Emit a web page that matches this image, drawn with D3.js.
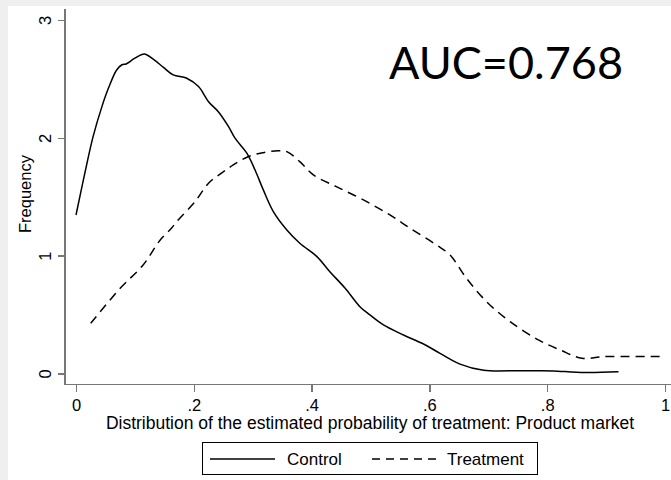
<!DOCTYPE html>
<html>
<head>
<meta charset="utf-8">
<script src="https://cdnjs.cloudflare.com/ajax/libs/d3/7.8.5/d3.min.js"></script>
<style>
body, html {
  margin: 0;
  padding: 0;
  background: #efefef;
  overflow: hidden;
}
text {
  font-family: "Liberation Sans", Arial, sans-serif;
  fill: #000;
}
.axis path, .axis line {
  stroke: #777;
  stroke-width: 1.5;
  shape-rendering: crispEdges;
}
</style>
</head>
<body>
<div id="chart"></div>
<script>

// density estimates
var controlX = [0, 0.015, 0.029, 0.044, 0.055, 0.069, 0.078, 0.085, 0.100, 0.116, 0.131, 0.148, 0.165, 0.188, 0.208, 0.225, 0.242, 0.259, 0.270, 0.290, 0.304, 0.318, 0.335, 0.358, 0.380, 0.409, 0.431, 0.457, 0.482, 0.499, 0.522, 0.556, 0.590, 0.618, 0.652, 0.692, 0.754, 0.788, 0.810, 0.864, 0.921]
var controlY = [1.345, 1.70, 2.01, 2.265, 2.42, 2.576, 2.62, 2.627, 2.676, 2.712, 2.667, 2.60, 2.534, 2.506, 2.435, 2.307, 2.22, 2.095, 1.997, 1.87, 1.727, 1.558, 1.374, 1.218, 1.105, 0.992, 0.864, 0.723, 0.567, 0.497, 0.412, 0.327, 0.25, 0.171, 0.08, 0.027, 0.024, 0.024, 0.022, 0.008, 0.014]

var treatX = [0.025, 0.075, 0.114, 0.143, 0.162, 0.171, 0.202, 0.225, 0.247, 0.267, 0.292, 0.318, 0.343, 0.358, 0.380, 0.403, 0.442, 0.488, 0.533, 0.567, 0.612, 0.635, 0.663, 0.697, 0.737, 0.785, 0.822, 0.859, 0.896, 1.0]
var treatY = [0.426, 0.723, 0.921, 1.133, 1.232, 1.289, 1.458, 1.615, 1.70, 1.77, 1.84, 1.874, 1.891, 1.883, 1.798, 1.685, 1.586, 1.473, 1.346, 1.233, 1.091, 1.006, 0.808, 0.61, 0.44, 0.285, 0.20, 0.129, 0.143, 0.143]

var xTicks = [0, 0.2, 0.4, 0.6, 0.8, 1]
var xTickLabels = ["0", ".2", ".4", ".6", ".8", "1"]
var yTicks = [0, 1, 2, 3]

var seriesNames = ["Control", "Treatment"]
var aucLabel = "AUC=0.768"
var xTitle = "Distribution of the estimated probability of treatment: Product market"
var yTitle = "Frequency"

var W = 671, H = 480

var svg = d3.select("#chart").append("svg")
  .attr("width", W)
  .attr("height", H)

// white graph region
svg.append("rect")
  .attr("x", 8).attr("y", 6)
  .attr("width", W - 8).attr("height", H - 6)
  .attr("fill", "#fff")

x = d3.scaleLinear().domain([0, 1]).range([76, 665])
y = d3.scaleLinear().domain([0, 3]).range([373.5, 20])

var axisX = 65, axisY = 384.5

// x axis
var gx = svg.append("g")
  .attr("class", "axis")
  .attr("transform", "translate(0," + axisY + ")")
  .call(d3.axisBottom(x).tickValues(xTicks).tickSize(7).tickSizeOuter(0)
    .tickFormat(function(d, i) { return xTickLabels[i] }))
gx.select(".domain").attr("d", "M" + axisX + ",0H" + W)
gx.selectAll("text").attr("font-size", 16.5).attr("dy", "1.0em")

// y axis
var gy = svg.append("g")
  .attr("class", "axis")
  .attr("transform", "translate(" + axisX + ",0)")
  .call(d3.axisLeft(y).tickValues(yTicks).tickSize(7).tickSizeOuter(0)
    .tickFormat(d3.format("d")))
gy.select(".domain").attr("d", "M0,9V" + axisY)
gy.selectAll(".tick text")
  .attr("font-size", 16.5)
  .attr("x", null)
  .attr("text-anchor", "middle")
  .attr("transform", "translate(-20,0) rotate(-90)")
  .attr("dy", "0.35em")

// axis titles
svg.append("text")
  .attr("x", 370).attr("y", 429)
  .attr("text-anchor", "middle")
  .attr("font-size", 17.5)
  .text(xTitle)

svg.append("text")
  .attr("transform", "translate(31,194) rotate(-90)")
  .attr("text-anchor", "middle")
  .attr("font-size", 16.5)
  .text(yTitle)

line = d3.line()
  .curve(d3.curveCatmullRom)
  .x(function(d) { return x(d[0]) })
  .y(function(d) { return y(d[1]) })

var control = controlX.map(function(v, i) { return [v, controlY[i]] })
var treat = treatX.map(function(v, i) { return [v, treatY[i]] })

svg.append("path")
  .attr("d", line(control))
  .attr("fill", "none")
  .attr("stroke", "#000")
  .attr("stroke-width", 1.5)

svg.append("path")
  .attr("d", line(treat))
  .attr("fill", "none")
  .attr("stroke", "#000")
  .attr("stroke-width", 1.5)
  .attr("stroke-dasharray", "9,6")

// AUC annotation
svg.append("text")
  .attr("x", 506).attr("y", 79)
  .attr("text-anchor", "middle")
  .style("font-family", "Lato, sans-serif")
  .attr("font-size", 45)
  .text(aucLabel)

// legend
var lg = svg.append("g")
lg.append("rect")
  .attr("x", 202.5).attr("y", 442.5)
  .attr("width", 335).attr("height", 32)
  .attr("fill", "#fff")
  .attr("stroke", "#000")
  .attr("stroke-width", 1)

lg.append("line")
  .attr("x1", 210).attr("x2", 275)
  .attr("y1", 459).attr("y2", 459)
  .attr("stroke", "#000").attr("stroke-width", 1.5)
lg.append("text")
  .attr("x", 287).attr("y", 465)
  .attr("font-size", 17)
  .text(seriesNames[0])

lg.append("line")
  .attr("x1", 372).attr("x2", 437)
  .attr("y1", 459).attr("y2", 459)
  .attr("stroke", "#000").attr("stroke-width", 1.5)
  .attr("stroke-dasharray", "8,6")
lg.append("text")
  .attr("x", 447).attr("y", 465)
  .attr("font-size", 17)
  .text(seriesNames[1])

</script>
</body>
</html>
